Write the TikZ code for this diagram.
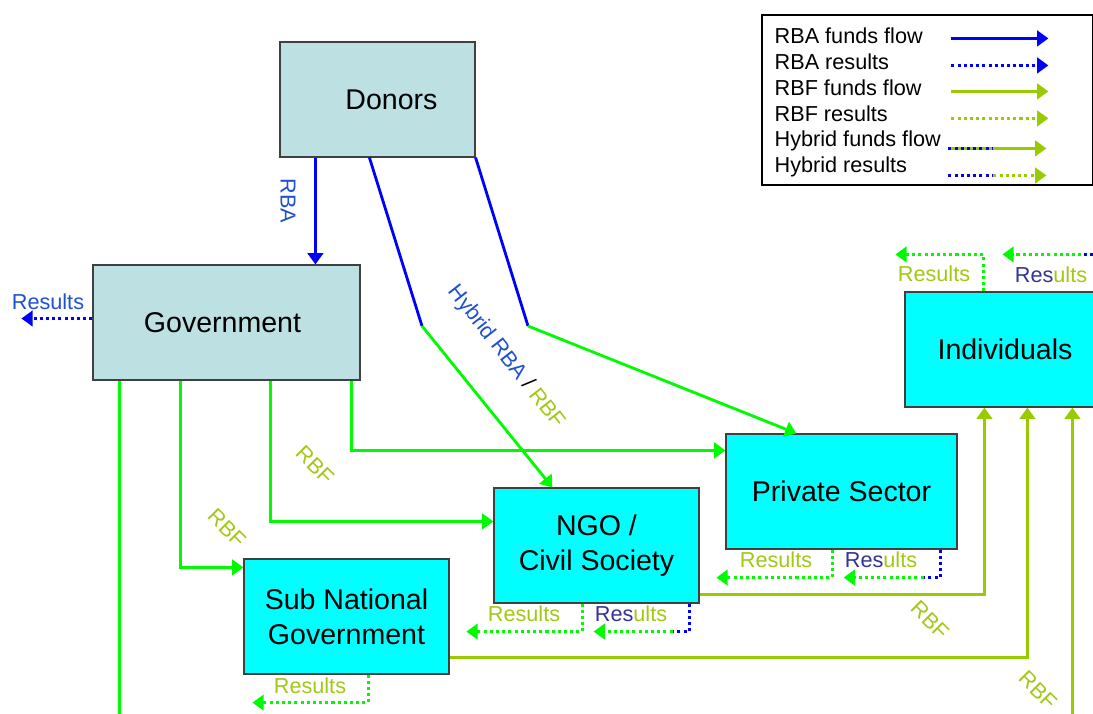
\documentclass[tikz,border=0pt]{standalone}
\usepackage{fontspec}
\setmainfont{Liberation Sans}
\usetikzlibrary{arrows.meta, positioning, calc}
\definecolor{rbablue}{RGB}{0,0,255}
\definecolor{rbfgreen}{RGB}{0,250,0}
\definecolor{rbfolive}{RGB}{153,204,0}
\definecolor{tagolive}{RGB}{160,200,20}
\definecolor{tagblue}{RGB}{30,80,210}
\definecolor{resdark}{RGB}{51,51,153}
\definecolor{donorfill}{RGB}{189,224,227}
\definecolor{actorfill}{RGB}{0,255,255}

\begin{document}
\begin{tikzpicture}[x=0.025cm, y=-0.025cm,
    % Node styles
    donorbox/.style={rectangle, draw=black!75, line width=0.8pt, fill=donorfill, inner sep=0pt, align=center, minimum height=2.875cm, font=\fontsize{20.3}{25}\selectfont},
    actorbox/.style={donorbox, fill=actorfill},
    legendbox/.style={rectangle, draw=black, line width=0.8pt, fill=white, minimum width=8.275cm, minimum height=4.25cm},
    legtext/.style={anchor=west, inner sep=0pt, font=\fontsize{15.4}{18}\selectfont},
    tag/.style={inner sep=0pt, text=tagolive, font=\fontsize{15.4}{18}\selectfont},
    tip/.style={-{Triangle[length=8pt, width=11pt]}},
    rbaflow/.style={line width=2pt, draw=rbablue},
    rbfflow/.style={line width=2pt, draw=rbfgreen},
    oliveflow/.style={line width=2.6pt, draw=rbfolive},
    dots/.style={line width=2.2pt, dash pattern=on 2.2pt off 2.2pt},
]
\useasboundingbox (0,0) rectangle (1093,713);
\clip (0,0) rectangle (1093,713);

% === Boxes ===
\node[donorbox, minimum width=4.875cm] (donors) at (377.5,99.5) {\hspace*{0.7cm}Donors};
\node[donorbox, minimum width=6.675cm] (gov) at (226.5,322.5) {Government\hspace*{0.2cm}};
\node[actorbox, minimum width=5cm] (ind) at (1005,349.5) {Individuals};
\node[actorbox, minimum width=5.775cm] (priv) at (841.5,491.5) {Private Sector};
\node[actorbox, minimum width=5.125cm] (ngo) at (596.5,545.5) {NGO /\\Civil Society};
\node[actorbox, minimum width=5.125cm] (sub) at (346.5,616.5) {Sub National\\Government};

% === Donor flows ===
\draw[rbaflow, tip] ($(donors.south west)+(36,0)$) coordinate (rbastart) -- (rbastart |- gov.north);
\node[tag, text=tagblue, rotate=-90] (rbatag) at (288,201) {RBA};

\coordinate (bend1) at (422,326);
\coordinate (bend2) at (528,326);
\draw[rbaflow] ($(donors.south west)+(90,0)$) -- (bend1);
\draw[rbfflow, tip] (bend1) -- ($(ngo.north west)+(59,0)$);
\draw[rbaflow] (donors.south east) -- (bend2);
\draw[rbfflow, tip] (bend2) -- ($(priv.north west)+(71,0)$);
\node[tag, rotate=-52] (hybridtag) at (506,357) {\textcolor{tagblue}{Hybrid RBA} \textcolor{black}{/} RBF};

% === Government flows ===
\draw[dots, rbablue, tip] ($(gov.west)+(0,-4)$) -- ++(-71,0);
\node[tag, text=tagblue] (govres) at (48,302) {Results};

\draw[rbfflow] ($(gov.south west)+(27,0)$) -- ++(0,340);
\draw[rbfflow, tip] ($(gov.south west)+(88,0)$) |- ($(sub.north west)+(0,9)$);
\draw[rbfflow, tip] ($(gov.south west)+(178,0)$) |- ($(ngo.north west)+(0,34)$);
\draw[rbfflow, tip] ($(gov.south east)+(-9,0)$) |- ($(priv.north west)+(0,17)$);
\node[tag, rotate=-45] (rbftag1) at (315,465) {RBF};
\node[tag, rotate=-45] (rbftag2) at (227,528) {RBF};

% === Flows to individuals ===
\draw[oliveflow, tip] ($(ngo.south east)+(0,-9)$) -| ($(ind.south west)+(80,0)$);
\draw[oliveflow, tip] ($(sub.south east)+(0,-17)$) -| ($(ind.south west)+(123,0)$);
\draw[oliveflow, tip] ($(ind.south west)+(168,320)$) -- ($(ind.south west)+(168,0)$);
\node[tag, rotate=-45] (rbftag3) at (930,620) {RBF};
\node[tag, rotate=-45] (rbftag4) at (1038,690) {RBF};

% === Results ===
\draw[dots, rbfgreen, tip] ($(sub.south west)+(125,0)$) -- ++(0,28) -- ++(-116,0);
\node[tag] (subres) at (310,686) {Results};

\draw[dots, rbfgreen, tip] ($(ngo.south west)+(89,0)$) -- ++(0,28) -- ++(-116,0);
\draw[dots, rbablue] ($(ngo.south east)+(-10,0)$) -- ++(0,28) -- ++(-17,0) coordinate (ngomid);
\draw[dots, rbfgreen, tip] (ngomid) -- ++(-79,0);
\node[tag] (ngores1) at (524,614) {Results};
\node[tag] (ngores2) at (631,614) {\textcolor{resdark}{Res}ults};

\draw[dots, rbfgreen, tip] ($(priv.south west)+(107,0)$) -- ++(0,28) -- ++(-116,0);
\draw[dots, rbablue] ($(priv.south east)+(-17,0)$) -- ++(0,28) -- ++(-17,0) coordinate (privmid);
\draw[dots, rbfgreen, tip] (privmid) -- ++(-80,0);
\node[tag] (privres1) at (776,560) {Results};
\node[tag] (privres2) at (881,560) {\textcolor{resdark}{Res}ults};

\draw[dots, rbfgreen, tip] ($(ind.north west)+(79,0)$) -- ++(0,-37) -- ++(-88,0);
\draw[dots, rbablue] ($(ind.north west)+(195,0)$) -- ++(0,-37) -- ++(-18,0) coordinate (indmid);
\draw[dots, rbfgreen, tip] (indmid) -- ++(-79,0);
\node[tag] (indres1) at (934,274) {Results};
\node[tag] (indres2) at (1051,275) {\textcolor{resdark}{Res}ults};

% === Legend ===
\node[legendbox] (legend) at (927.5,100) {};
\node[legtext] (leg1) at ($(legend.north west)+(13,21)$) {RBA funds flow};
\node[legtext] (leg2) at ($(legend.north west)+(13,47)$) {RBA results};
\node[legtext] (leg3) at ($(legend.north west)+(13,73)$) {RBF funds flow};
\node[legtext] (leg4) at ($(legend.north west)+(13,99)$) {RBF results};
\node[legtext] (leg5) at ($(legend.north west)+(13,126)$) {Hybrid funds flow};
\node[legtext] (leg6) at ($(legend.north west)+(13,152)$) {Hybrid results};

\draw[rbaflow, tip] ($(legend.north west)+(190,24)$) -- ($(legend.north west)+(287,24)$);
\draw[rbaflow, dots, tip] ($(legend.north west)+(190,51)$) -- ($(legend.north west)+(287,51)$);
\draw[rbfflow, draw=rbfolive, tip] ($(legend.north west)+(190,77)$) -- ($(legend.north west)+(287,77)$);
\draw[rbfflow, draw=rbfolive, dots, tip] ($(legend.north west)+(190,104)$) -- ($(legend.north west)+(287,104)$);
\draw[rbfflow, draw=rbfolive, tip] ($(legend.north west)+(187,134)$) -- ($(legend.north west)+(285,134)$);
\draw[dots, rbablue] ($(legend.north west)+(187,134)$) -- ++(45,0);
\draw[dots, rbablue] ($(legend.north west)+(187,161)$) -- ++(45,0) coordinate (legmid);
\draw[rbfflow, draw=rbfolive, dots, tip] (legmid) -- ($(legend.north west)+(285,161)$);

\end{tikzpicture}
\end{document}
